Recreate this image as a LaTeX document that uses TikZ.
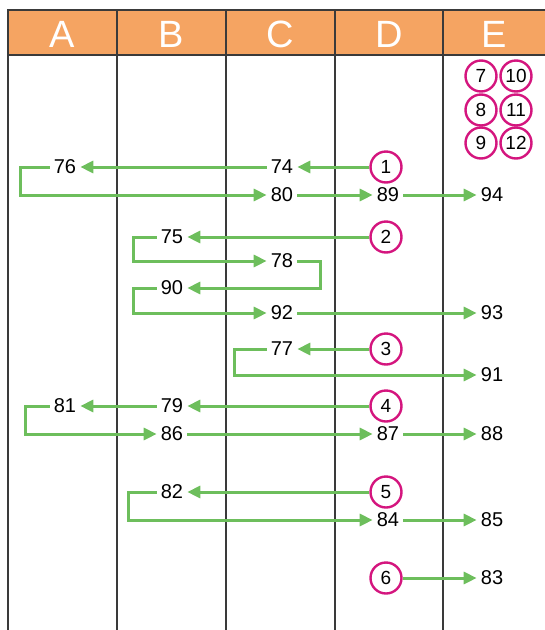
\documentclass[tikz,border=0pt]{standalone}
\usepackage{fontspec}
\setmainfont{Liberation Sans}
\usetikzlibrary{arrows.meta}
\definecolor{Header}{HTML}{F5A462}
\definecolor{Flow}{HTML}{6DBE5C}
\definecolor{Ring}{HTML}{D4157E}
\definecolor{Rule}{HTML}{3A3A3A}

\begin{document}
\begin{tikzpicture}[x=1pt,y=-1pt,
  head/.style={text=white,font=\fontsize{38}{40}\selectfont},
  num/.style={font=\fontsize{20}{22}\selectfont,inner xsep=4pt,inner ysep=2pt},
  ring/.style={circle,draw=Ring,line width=2.4pt,minimum size=31pt,inner sep=0pt,font=\fontsize{19}{21}\selectfont},
  flow/.style={draw=Flow,line width=3pt,-{Triangle[length=13pt,width=12pt]}}]
\useasboundingbox (0,0) rectangle (545,630);
% Header band
\fill[Header] (8,10) rectangle (545,55);
\draw[Rule,line width=1.5pt] (545,10) -- (8,10) -- (8,630);
\draw[Rule,line width=1.5pt] (8,55) -- (545,55);
\foreach \x in {117,226,335,443}
  \draw[Rule,line width=1.2pt] (\x,10) -- (\x,630);
\foreach \l/\x in {A/62,B/171,C/280,D/389,E/494}
  \node[head] (h\l) at (\x,34) {\l};
% Spare rings
\node[ring] (c7) at (481,76) {7};
\node[ring] (c10) at (516,76) {10};
\node[ring] (c8) at (481,110) {8};
\node[ring] (c11) at (516,110) {11};
\node[ring] (c9) at (481,143) {9};
\node[ring] (c12) at (516,143) {12};
% Ring 1
\node[ring] (c1) at (386,167) {1};
\node[num] (n74) at (282,167) {74};
\node[num] (n76) at (65,167) {76};
\node[num] (n80) at (282,195) {80};
\node[num] (n89) at (388,195) {89};
\node[num] (n94) at (492,195) {94};
\draw[flow] (c1) -- (n74);
\draw[flow] (n74) -- (n76);
\draw[flow] (n76) -- ++(-45,0) |- (n80);
\draw[flow] (n80) -- (n89);
\draw[flow] (n89) -- (n94);
% Ring 2
\node[ring] (c2) at (386,237) {2};
\node[num] (n75) at (172,237) {75};
\node[num] (n78) at (282,261) {78};
\node[num] (n90) at (172,288) {90};
\node[num] (n92) at (282,313) {92};
\node[num] (n93) at (492,313) {93};
\draw[flow] (c2) -- (n75);
\draw[flow] (n75) -- ++(-39,0) |- (n78);
\draw[flow] (n78) -- ++(38,0) |- (n90);
\draw[flow] (n90) -- ++(-39,0) |- (n92);
\draw[flow] (n92) -- (n93);
% Ring 3
\node[ring] (c3) at (386,349) {3};
\node[num] (n77) at (282,349) {77};
\node[num] (n91) at (492,375) {91};
\draw[flow] (c3) -- (n77);
\draw[flow] (n77) -- ++(-48,0) |- (n91);
% Ring 4
\node[ring] (c4) at (386,406) {4};
\node[num] (n79) at (172,406) {79};
\node[num] (n81) at (65,406) {81};
\node[num] (n86) at (172,434) {86};
\node[num] (n87) at (388,434) {87};
\node[num] (n88) at (492,434) {88};
\draw[flow] (c4) -- (n79);
\draw[flow] (n79) -- (n81);
\draw[flow] (n81) -- ++(-40,0) |- (n86);
\draw[flow] (n86) -- (n87);
\draw[flow] (n87) -- (n88);
% Ring 5
\node[ring] (c5) at (386,492) {5};
\node[num] (n82) at (172,492) {82};
\node[num] (n84) at (388,520) {84};
\node[num] (n85) at (492,520) {85};
\draw[flow] (c5) -- (n82);
\draw[flow] (n82) -- ++(-44,0) |- (n84);
\draw[flow] (n84) -- (n85);
% Ring 6
\node[ring] (c6) at (386,578) {6};
\node[num] (n83) at (492,578) {83};
\draw[flow] (c6) -- (n83);
\end{tikzpicture}
\end{document}
